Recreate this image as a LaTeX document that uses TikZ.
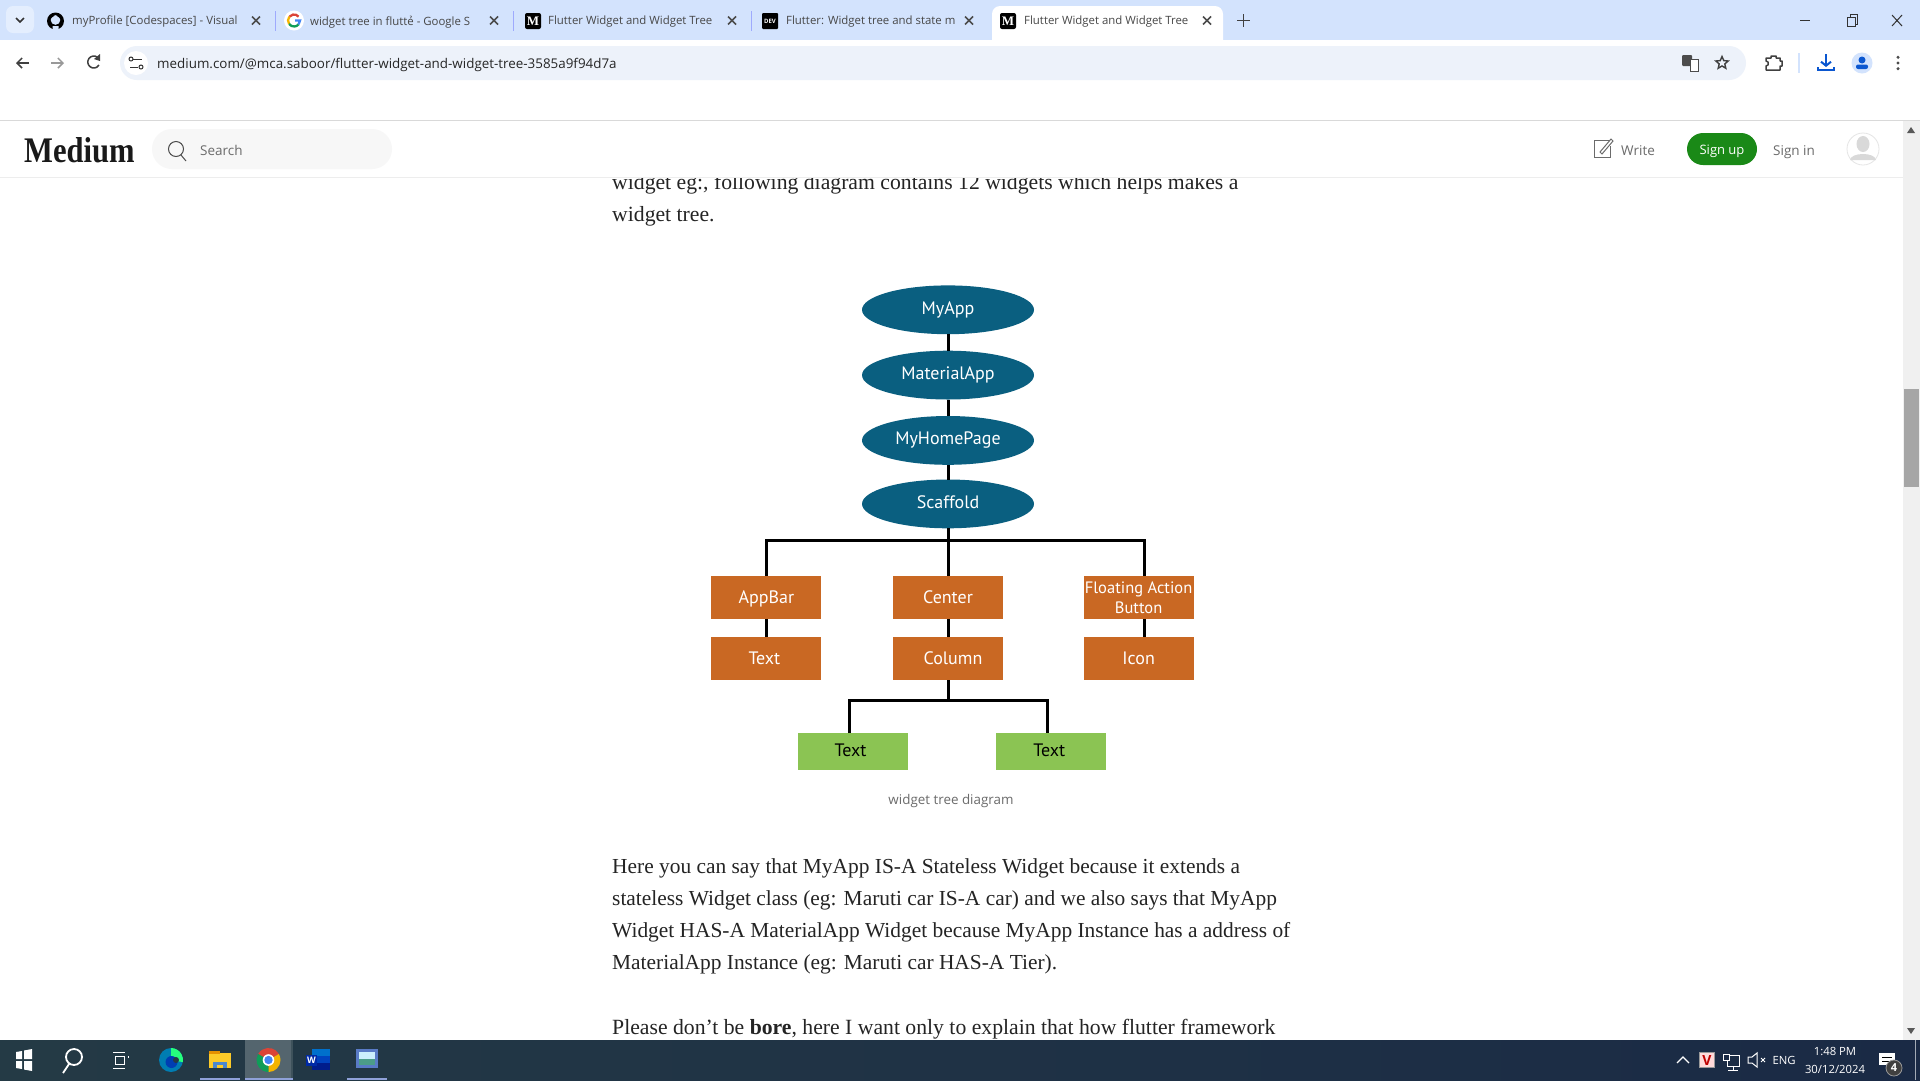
\documentclass[tikz,border=0pt]{standalone}
\usepackage{fontspec}
\usetikzlibrary{calc,arrows.meta,positioning,shapes.geometric}
\setmainfont{Liberation Serif}
\newfontfamily\uifont{Open Sans}
\newfontfamily\diagfam{PT Sans}
\newfontfamily\logofam[FakeStretch=0.85]{Liberation Serif}
\definecolor{tabBar}{HTML}{D3E3FD}
\definecolor{addrBar}{HTML}{EDF2FA}
\definecolor{ovalColor}{HTML}{0A5F80}
\definecolor{boxColor}{HTML}{C96823}
\definecolor{leafColor}{HTML}{8BC453}
\definecolor{barLeft}{HTML}{243A45}
\definecolor{barRight}{HTML}{1A2A45}
\definecolor{mediumGreen}{HTML}{1A8917}
\definecolor{greyText}{HTML}{6B6B6B}
\definecolor{bodyText}{HTML}{242424}
\definecolor{chromeBlue}{HTML}{0B57D0}
\definecolor{gRed}{HTML}{DB4437}
\definecolor{gYellow}{HTML}{F4B400}
\definecolor{gGreen}{HTML}{0F9D58}
\definecolor{gBlue}{HTML}{4285F4}
\newcommand{\tabfont}{\uifont\fontsize{11.4}{14}\selectfont}
\newcommand{\diagfont}{\diagfam\fontsize{18}{20}\selectfont}
\newcommand{\bodyfont}{\rmfamily\fontsize{21.4}{26}\selectfont}
\newcommand{\widefont}{\rmfamily\fontsize{21.7}{26}\selectfont}
\begin{document}
\begin{tikzpicture}[
    x=1pt, y=-1pt,
    oval/.style={ellipse, draw=none, fill=ovalColor, text=white, minimum width=172pt, minimum height=48.8pt, inner sep=0pt, outer sep=0pt, text height=12pt, text depth=3pt, font=\diagfont},
    orangebox/.style={draw=none, fill=boxColor, text=white, minimum width=110pt, minimum height=43pt, inner sep=0pt, outer sep=0pt, text height=12pt, text depth=0pt, align=center, font=\diagfont},
    leafbox/.style={draw=none, fill=leafColor, text=black, minimum width=110pt, minimum height=36.5pt, inner sep=0pt, outer sep=0pt, text height=12pt, text depth=1pt, font=\diagfont},
    link/.style={draw=black, line width=3pt},
    tabtext/.style={anchor=west, inner sep=0pt, text=black!72, font=\tabfont},
    closemark/.style={line width=1.5pt, black!70},
    bodyline/.style={anchor=base west, inner sep=0pt, text=bodyText, font=\bodyfont},
    headtext/.style={anchor=base west, inner sep=0pt, text=greyText, font=\uifont\fontsize{13.5}{16}\selectfont},
    icon/.style={line width=1.5pt, draw=black!75},
    tray/.style={inner sep=0pt, text=white, font=\uifont\fontsize{11.3}{14}\selectfont},
  ]
  \useasboundingbox (0,0) rectangle (1920,1080);
  \fill[white] (0,0) rectangle (1920,1080);

  % article text, the header covers its first line
  \node[bodyline, font=\widefont] (introa) at (612,189) {widget eg:, following diagram contains 12 widgets which helps makes a};
  \node[bodyline, font=\widefont] (introb) at (612,221) {widget tree.};
  \node[bodyline] (parasa) at (612,873) {Here you can say that MyApp IS-A Stateless Widget because it extends a};
  \node[bodyline] (parasb) at (612,905) {stateless Widget class (eg: Maruti car IS-A car) and we also says that MyApp};
  \node[bodyline] (parasc) at (612,937) {Widget HAS-A MaterialApp Widget because MyApp Instance has a address of};
  \node[bodyline] (parasd) at (612,969) {MaterialApp Instance (eg: Maruti car HAS-A Tier).};
  \node[bodyline, font=\widefont] (parase) at (612,1034) {Please don't be \textbf{bore}, here I want only to explain that how flutter framework};

  % browser tabs
  \fill[tabBar] (0,0) rectangle (1920,40);
  \fill[white] (0,40) rectangle (1920,120);
  \fill[white, rounded corners=8pt] (992,6) rectangle (1223,50);
  \fill[white!40!tabBar, rounded corners=7pt] (6,6) rectangle (34,33);
  \draw[line width=1.5pt, black!80] (16,18) -- (20,22) -- (24,18);
  \foreach \xpos/\tabname in {72/{myProfile [Codespaces] - Visual},310/{widget tree in fluttẻ - Google S},548/{Flutter Widget and Widget Tree},786/{Flutter: Widget tree and state m},1024/{Flutter Widget and Widget Tree}}
    \node[tabtext] at (\xpos,22) {\tabname};
  \foreach \xpos in {256,494,732,969,1207}
    \draw[closemark] (\xpos-4,16.5) -- (\xpos+4,24.5) (\xpos+4,16.5) -- (\xpos-4,24.5);
  \foreach \xpos in {275,513,751}
    \draw[tabBar!75!blue, line width=1pt] (\xpos,11) -- (\xpos,31);
  % tab icons
  \fill[black] (55.5,21) circle[radius=8.5pt];
  \fill[tabBar] (55.5,20) circle[radius=4.8pt] (52.5,26) rectangle (58.5,30);
  \fill[black] (51,14) -- (54,16) -- (51,18) -- cycle (60,14) -- (57,16) -- (60,18) -- cycle;
  \fill[white] (294,20.5) circle[radius=10pt];
  \draw[gRed, line width=2.3pt] (294,20.5) +(40:6pt) arc[start angle=40, end angle=140, radius=6pt];
  \draw[gYellow, line width=2.3pt] (294,20.5) +(140:6pt) arc[start angle=140, end angle=215, radius=6pt];
  \draw[gGreen, line width=2.3pt] (294,20.5) +(215:6pt) arc[start angle=215, end angle=320, radius=6pt];
  \draw[gBlue, line width=2.3pt] (294,20.5) +(320:6pt) arc[start angle=320, end angle=360, radius=6pt] -- (295,20.5);
  \foreach \xpos in {533,1008} {
    \fill[black, rounded corners=2pt] (\xpos-8,13) rectangle (\xpos+8,29);
    \node[inner sep=0pt, text=white, font=\rmfamily\bfseries\fontsize{13}{13}\selectfont] at (\xpos,21) {M};
  }
  \fill[black, rounded corners=1pt] (762,13) rectangle (778,29);
  \node[inner sep=0pt, text=white, font=\uifont\bfseries\fontsize{6}{6}\selectfont] (devlogo) at (770,21) {DEV};
  \draw[line width=1.3pt, black!75] (1243.5,14) -- (1243.5,27) (1237,20.5) -- (1250,20.5);
  \draw[line width=1pt, black!80] (1800,20.5) -- (1810,20.5);
  \draw[line width=1pt, black!80] (1847,17) rectangle (1855,26) (1850,17) -- (1850,14.5) -- (1857,14.5) -- (1857,24) -- (1855,24);
  \draw[line width=1pt, black!80] (1892,15) -- (1902,26) (1902,15) -- (1892,26);

  % toolbar
  \fill[addrBar, rounded corners=17pt] (120,46) rectangle (1746,80);
  \fill[white] (136,63) circle[radius=12pt];
  \draw[line width=1pt, black!80] (133,59) -- (142,59) (130,67) -- (138,67);
  \draw[line width=1pt, black!80] (131,59) circle[radius=2pt] (141,67) circle[radius=2pt];
  \node[anchor=west, inner sep=0pt, text=black!85, font=\uifont\fontsize{13.4}{16}\selectfont] (urltext) at (157,65) {medium.com/@mca.saboor/flutter-widget-and-widget-tree-3585a9f94d7a};
  \draw[icon, -{Straight Barb[length=5pt,width=10pt]}] (29,63) -- (16,63);
  \draw[icon, black!40, -{Straight Barb[length=5pt,width=10pt]}] (51,63) -- (64,63);
  \draw[icon] (99,59) arc[start angle=30, end angle=330, radius=6pt];
  \fill[black!75] (100,54) -- (100,61) -- (94,59) -- cycle;
  \fill[black!70, rounded corners=1pt] (1682,55) rectangle (1692,66);
  \draw[line width=.8pt, black!70, fill=white] (1690,59) rectangle (1698,71);
  \node[draw=black!75, line width=1.4pt, star, star points=5, star point ratio=2.2, minimum size=13pt, inner sep=0pt] (bookmark) at (1722,63) {};
  \draw[icon, line join=round] (1766,58) -- (1771,58) -- (1771,56) -- (1776,56) -- (1776,58) -- (1780,58) -- (1780,61) -- (1782,61) -- (1782,66) -- (1780,66) -- (1780,70) -- (1766,70) -- (1766,66) -- (1768,65) -- (1768,62) -- (1766,61) -- cycle;
  \draw[line width=1.5pt, tabBar] (1799,53) -- (1799,73);
  \draw[line width=2pt, chromeBlue, -{Straight Barb[length=4pt,width=10pt]}] (1826,54) -- (1826,67);
  \draw[line width=2pt, chromeBlue] (1818,67) -- (1818,70) -- (1834,70) -- (1834,67);
  \fill[tabBar] (1862,63) circle[radius=10.5pt];
  \fill[chromeBlue] (1862,60) circle[radius=3.5pt];
  \fill[chromeBlue, rounded corners=2pt] (1856,69) rectangle (1868,64.5);
  \fill[black!70] (1898,57.3) circle[radius=1.7pt] (1898,63) circle[radius=1.7pt] (1898,68.7) circle[radius=1.7pt];

  % page header
  \fill[white] (0,121) rectangle (1903,177);
  \draw[black!15, line width=1pt] (0,120) -- (1920,120);
  \draw[black!7, line width=1pt] (0,177.5) -- (1903,177.5);
  \node[anchor=west, inner sep=0pt, text=black!90, font=\logofam\bfseries\fontsize{36}{36}\selectfont] (medlogo) at (24,150) {Medium};
  \fill[black!3, rounded corners=20pt] (152,129) rectangle (392,169);
  \draw[line width=1pt, black!70] (176,149) circle[radius=7.5pt] (181,155) -- (186,161);
  \node[headtext] (searchtext) at (200,155) {Search};
  \draw[line width=1pt, greyText] (1610,140) -- (1594,140) -- (1594,157) -- (1610,157) -- (1610,146);
  \draw[line width=1pt, greyText] (1600,152) -- (1611,139) -- (1613,141) -- (1602,154) -- cycle;
  \node[headtext] (writetext) at (1621,155) {Write};
  \fill[mediumGreen, rounded corners=16pt] (1687,133) rectangle (1757,165);
  \node[inner sep=0pt, text=white, font=\uifont\fontsize{13}{16}\selectfont, anchor=base] (signup) at (1722,154) {Sign up};
  \node[headtext] (signin) at (1773,155) {Sign in};
  \draw[black!10, line width=.8pt] (1863,149) circle[radius=16pt];
  \fill[black!15] (1863,144) ellipse[x radius=6.5pt, y radius=8pt];
  \fill[black!15] (1850,160) .. controls (1851,152) and (1875,152) .. (1876,160) -- cycle;

  % scrollbar
  \fill[black!6] (1903,121) rectangle (1920,1040);
  \fill[black!35] (1904,389) rectangle (1919,487);
  \fill[black!65] (1911,127) -- (1915,133) -- (1907,133) -- cycle;
  \fill[black!65] (1911,1034) -- (1915,1028) -- (1907,1028) -- cycle;

  % widget tree
  \node[oval] (myapp) at (948,309.8) {MyApp};
  \node[oval, below=16.5pt of myapp] (materialapp) {MaterialApp};
  \node[oval, below=16.5pt of materialapp] (myhomepage) {MyHomePage};
  \node[oval, below=14.7pt of myhomepage] (scaffold) {Scaffold};
  \node[orangebox, below=47.5pt of scaffold] (center) {Center};
  \node[orangebox, left=71.6pt of center] (appbar) {AppBar};
  \node[orangebox, right=80.6pt of center, text height=, text depth=, font=\diagfam\fontsize{16.5}{20}\selectfont] (fab) {Floating Action\\Button};
  \node[orangebox, below=18.6pt of center] (column) {\hspace*{10pt}Column};
  \node[orangebox, below=18.6pt of appbar] (apptext) {Text\hspace*{4pt}};
  \node[orangebox, below=18.6pt of fab] (icon) {Icon};
  \node[leafbox, below=52.6pt of column, xshift=-95pt] (textleft) {Text\hspace*{5pt}};
  \node[leafbox, below=52.6pt of column, xshift=102.7pt] (textright) {Text\hspace*{3pt}};
  \coordinate (topbus) at (948,540.4);
  \coordinate (lowbus) at (948,700.4);

  \draw[link] (myapp) -- (materialapp);
  \draw[link] (materialapp) -- (myhomepage);
  \draw[link] (myhomepage) -- (scaffold);
  \draw[link] (scaffold) -- (center);
  \draw[link] (appbar.north) |- (topbus) -| ([xshift=5.4pt]fab.north);
  \draw[link] (appbar) -- (apptext);
  \draw[link] (center) -- (column);
  \draw[link] ([xshift=5.4pt]fab.south) -- ([xshift=5.4pt]icon.north);
  \draw[link] (column) -- (lowbus);
  \draw[link] ([xshift=-3.4pt]textleft.north) |- (lowbus) -| ([xshift=-2.8pt]textright.north);
  \node[inner sep=0pt, text=greyText, font=\uifont\fontsize{13.4}{16}\selectfont] (caption) at (951,801.5) {widget tree diagram};

  % taskbar
  \shade[left color=barLeft, right color=barRight] (0,1040) rectangle (1920,1080);
  \fill[white!22!barLeft] (245,1040) rectangle (291,1080);
  \fill[white!12!barLeft] (291,1040) rectangle (293,1080);
  \foreach \xa/\xb in {200/240,245/293,347/387}
    \fill[cyan!35!blue!45!white] (\xa,1077.5) rectangle (\xb,1080);
  \fill[white] (16,1052) -- (22,1051) -- (22,1059) -- (16,1059) -- cycle (24,1050.5) -- (32,1049) -- (32,1059) -- (24,1059) -- cycle (16,1061) -- (22,1061) -- (22,1069) -- (16,1068) -- cycle (24,1061) -- (32,1061) -- (32,1071) -- (24,1069.5) -- cycle;
  \draw[white, line width=1.8pt] (74,1057) circle[radius=8pt] (69,1064) -- (63,1073);
  \draw[white, line width=1pt] (113,1052) -- (125,1052) (115,1056) rectangle (124,1064) (113,1068) -- (125,1068) (128,1056) -- (128,1058);
  % edge
  \fill[blue!30!cyan!70!black] (171,1060) circle[radius=12pt];
  \fill[green!60!cyan!85!white] (171,1060) -- +(90:12pt) arc[start angle=90, end angle=-10, radius=12pt] -- cycle;
  \fill[blue!65!cyan!70!black] (171.5,1062) circle[radius=6pt];
  \fill[barLeft] (176,1060) circle[radius=3pt];
  % explorer
  \fill[yellow!55!orange!85!white] (209,1053) rectangle (231,1068);
  \fill[orange!75!yellow!90!black] (209,1051) rectangle (220,1054);
  \fill[cyan!50!blue!75!white] (213,1062) rectangle (227,1068);
  \fill[yellow!55!orange!85!white] (217,1065) rectangle (223,1068);
  % chrome
  \fill[gRed] (268.5,1060) -- +(30:12pt) arc[start angle=30, end angle=150, radius=12pt] -- cycle;
  \fill[gGreen] (268.5,1060) -- +(150:12pt) arc[start angle=150, end angle=270, radius=12pt] -- cycle;
  \fill[gYellow] (268.5,1060) -- +(270:12pt) arc[start angle=270, end angle=390, radius=12pt] -- cycle;
  \fill[white] (268.5,1060) circle[radius=5.8pt];
  \fill[gBlue] (268.5,1060) circle[radius=4.2pt];
  % word
  \fill[blue!45!cyan!80!black] (312,1049) rectangle (330,1056);
  \fill[blue!65!cyan!75!black] (312,1056) rectangle (330,1063);
  \fill[blue!80!cyan!55!black] (312,1063) rectangle (330,1070);
  \fill[blue!75!cyan!65!black] (306,1055) rectangle (317,1066);
  \node[inner sep=0pt, text=white, font=\uifont\bfseries\fontsize{9}{9}\selectfont] (wordw) at (311.5,1060.5) {W};
  % photos
  \fill[cyan!35!blue!70!white] (356,1049) rectangle (378,1068);
  \fill[cyan!20!white] (359,1052) rectangle (375,1059);
  \fill[green!25!cyan!45!black!70!white] (359,1059) rectangle (375,1065);
  % tray
  \draw[white, line width=1.3pt] (1677,1063) -- (1683,1057) -- (1689,1063);
  \node[draw=black!40, fill=white!85!red, minimum size=15pt, inner sep=0pt, text=red!75!black, font=\uifont\bfseries\fontsize{14}{14}\selectfont] (vbadge) at (1707,1060) {V};
  \draw[white, line width=1pt] (1727,1055) rectangle (1739,1066) (1733,1066) -- (1733,1070) (1728,1070) -- (1738,1070);
  \draw[white, line width=1pt, fill=barRight] (1723,1054) rectangle (1729,1060);
  \draw[white, line width=1pt] (1748,1057) -- (1752,1057) -- (1757,1053) -- (1757,1067) -- (1752,1063) -- (1748,1063) -- cycle (1761,1058) -- (1765,1062) (1765,1058) -- (1761,1062);
  \node[tray] (lang) at (1784,1060) {ENG};
  \node[tray] (clock) at (1835,1051) {1:48 PM};
  \node[tray] (today) at (1835,1069) {30/12/2024};
  \fill[white] (1879,1053) rectangle (1895,1065);
  \draw[black, line width=.8pt] (1882,1057) -- (1892,1057) (1882,1061) -- (1892,1061);
  \node[circle, fill=black!75, draw=white!60!black, line width=.8pt, minimum size=16pt, inner sep=0pt, text=white, font=\uifont\bfseries\fontsize{11}{11}\selectfont] (notes) at (1894,1068) {4};
  \draw[white!60!barRight, line width=.8pt] (1915,1040) -- (1915,1080);
\end{tikzpicture}
\end{document}
